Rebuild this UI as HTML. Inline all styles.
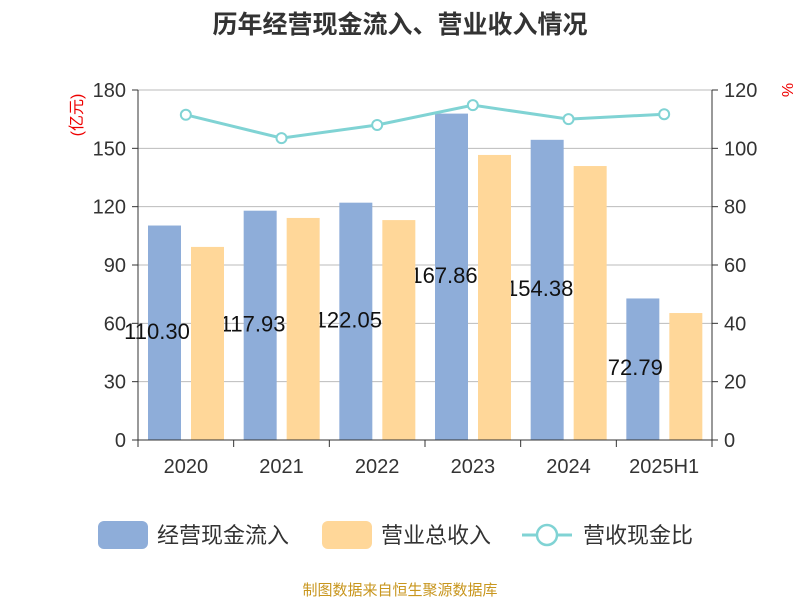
<!DOCTYPE html>
<html><head><meta charset="utf-8"><style>
body{margin:0;background:#fff;font-family:"Liberation Sans","Noto Sans CJK SC",sans-serif}
svg text{font-family:"Liberation Sans","Noto Sans CJK SC",sans-serif}
</style></head><body>
<svg id="c" width="800" height="600" xmlns="http://www.w3.org/2000/svg">
<text x="400" y="33" text-anchor="middle" font-size="25" font-weight="bold" fill="#333">历年经营现金流入、营业收入情况</text>
<g id="grid"></g><g id="bars"></g><g id="axes"></g><g id="line"></g>
<text transform="translate(82,115) rotate(-90)" text-anchor="middle" font-size="16" fill="#e00">(亿元)</text>
<text transform="translate(782,90) rotate(90)" text-anchor="middle" font-size="16" fill="#e00">%</text>
<g>
<rect x="98" y="521" width="50" height="28" rx="6" fill="#8eadd9"/>
<text x="157" y="543" font-size="22" fill="#333">经营现金流入</text>
<rect x="322" y="521" width="50" height="28" rx="6" fill="#ffd799"/>
<text x="381" y="543" font-size="22" fill="#333">营业总收入</text>
<line x1="522" y1="535" x2="572" y2="535" stroke="#80d3d4" stroke-width="3"/>
<circle cx="547" cy="535" r="10" fill="#fff" stroke="#80d3d4" stroke-width="2.5"/>
<text x="583" y="543" font-size="22" fill="#333">营收现金比</text>
</g>
<text x="400" y="595" text-anchor="middle" font-size="15" fill="#c8961e">制图数据来自恒生聚源数据库</text>
</svg>
<script>
const categories=["2020","2021","2022","2023","2024","2025H1"];
const cashIn=[110.30,117.93,122.05,167.86,154.38,72.79];
const revenue=[99.3,114.2,113.1,146.6,140.9,65.3];
const ratio=[111.5,103.5,108.0,114.8,110.0,111.7];
const leftTicks=[0,30,60,90,120,150,180];
const rightTicks=[0,20,40,60,80,100,120];
const NS="http://www.w3.org/2000/svg";
const X0=138,X1=712,Y0=440,Y1=90;
const bw=(X1-X0)/categories.length;
const yL=v=>Y0-(v/180)*(Y0-Y1);
const yR=v=>Y0-(v/120)*(Y0-Y1);
function mk(p,t,a){const e=document.createElementNS(NS,t);for(const k in a)e.setAttribute(k,a[k]);p.appendChild(e);return e;}
const g=document.getElementById('grid'),b=document.getElementById('bars'),ax=document.getElementById('axes'),ln=document.getElementById('line');
leftTicks.forEach((t,i)=>{
 const y=yL(t);
 if(t>0){const l=mk(g,'line',{x1:X0,x2:X1,y1:y,y2:y,stroke:'#bbb','stroke-width':1});
 
 }
 mk(ax,'line',{x1:X0-6,x2:X0,y1:y,y2:y,stroke:'#333'});
 const tl=mk(ax,'text',{x:X0-12,y:y+7,'text-anchor':'end','font-size':20,fill:'#333'});tl.textContent=t;
 
 
 const yr=yR(rightTicks[i]);
 mk(ax,'line',{x1:X1,x2:X1+6,y1:yr,y2:yr,stroke:'#333'});
 const tr=mk(ax,'text',{x:X1+12,y:yr+7,'font-size':20,fill:'#333'});tr.textContent=rightTicks[i];
 
 
});
mk(ax,'line',{x1:X0,x2:X0,y1:Y1,y2:Y0,stroke:'#333'});
mk(ax,'line',{x1:X1,x2:X1,y1:Y1,y2:Y0,stroke:'#333'});
mk(ax,'line',{x1:X0,x2:X1,y1:Y0,y2:Y0,stroke:'#333'});
categories.forEach((c,i)=>{
 const x=X0+i*bw;
 mk(ax,'line',{x1:x,x2:x,y1:Y0,y2:Y0+7,stroke:'#333'});
 const t=mk(ax,'text',{x:x+bw/2,y:Y0+33,'text-anchor':'middle','font-size':20,fill:'#333'});t.textContent=c;
 
 
 const r1=mk(b,'rect',{x:x+10,y:yL(cashIn[i]),width:33,height:Y0-yL(cashIn[i]),fill:'#8eadd9'});
 
 
 const lb=mk(b,'text',{x:x+19,y:(yL(cashIn[i])+Y0)/2+6,'text-anchor':'middle','font-size':22,fill:'#111'});lb.textContent=cashIn[i].toFixed(2);
 
 
});
mk(ax,'line',{x1:X1,x2:X1,y1:Y0,y2:Y0+7,stroke:'#333'});
categories.forEach((c,i)=>{
 const x=X0+i*bw;
 const r2=mk(b,'rect',{x:x+53,y:yL(revenue[i]),width:33,height:Y0-yL(revenue[i]),fill:'#ffd799'});
 
 
});
const pts=ratio.map((v,i)=>[X0+i*bw+bw/2,yR(v)]);
const pl=mk(ln,'polyline',{points:pts.map(p=>p.join(',')).join(' '),fill:'none',stroke:'#80d3d4','stroke-width':3});


pts.forEach(p=>{const c=mk(ln,'circle',{cx:p[0],cy:p[1],r:5,fill:'#fff',stroke:'#80d3d4','stroke-width':2});
 
 });
</script>
</body></html>
